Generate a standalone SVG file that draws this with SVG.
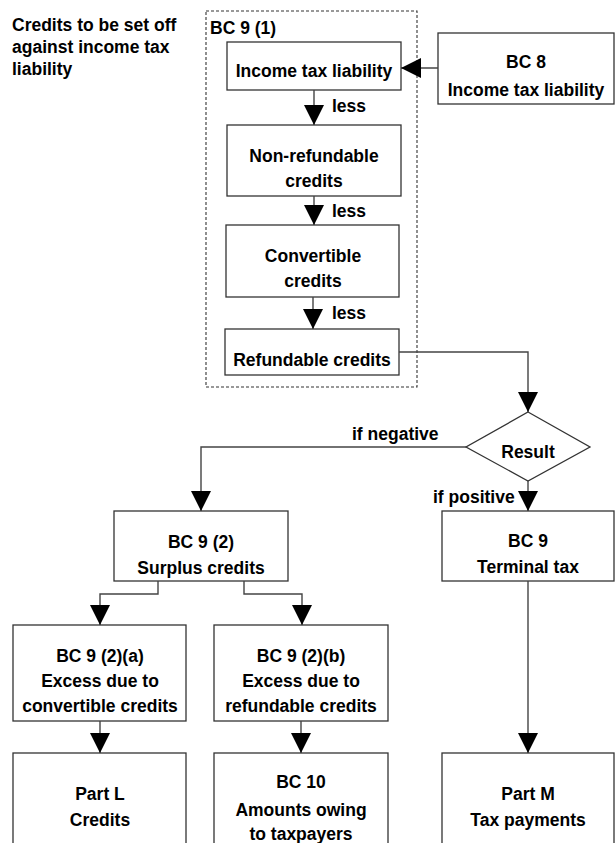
<svg xmlns="http://www.w3.org/2000/svg" width="615" height="843" viewBox="0 0 615 843">
<style>
  .box { fill: #ffffff; stroke: #333333; stroke-width: 1.3; }
  .dash { fill: none; stroke: #333333; stroke-width: 1.1; stroke-dasharray: 3 2; }
  .conn { fill: none; stroke: #444444; stroke-width: 1.4; }
  text { font-family: "Liberation Sans", Arial, sans-serif; font-size: 17.5px; font-weight: bold; fill: #000000; }
  .c { text-anchor: middle; }
</style>
<defs>
  <marker id="ah" viewBox="0 0 20 20" refX="20" refY="10" markerWidth="20" markerHeight="20" markerUnits="userSpaceOnUse" orient="auto">
    <path d="M0,0 L20,10 L0,20 Z" fill="#000000"/>
  </marker>
</defs>
<rect width="615" height="843" fill="#ffffff"/>

<g id="title">
  <text x="12" y="31">Credits to be set off</text>
  <text x="12" y="53">against income tax</text>
  <text x="12" y="75">liability</text>
</g>

<g id="bc9-1-group">
  <rect class="dash" x="206" y="11" width="211" height="376"/>
  <text x="210" y="34">BC 9 (1)</text>
</g>

<g id="income-tax-liability">
  <rect class="box" x="227" y="42" width="174" height="48"/>
  <text class="c" x="314" y="77">Income tax liability</text>
</g>

<g id="non-refundable">
  <rect class="box" x="227" y="125" width="174" height="71"/>
  <text class="c" x="314" y="162">Non-refundable</text>
  <text class="c" x="314" y="187">credits</text>
</g>

<g id="convertible">
  <rect class="box" x="226" y="225" width="173" height="72"/>
  <text class="c" x="313" y="262">Convertible</text>
  <text class="c" x="313" y="287">credits</text>
</g>

<g id="refundable">
  <rect class="box" x="225" y="329" width="174" height="46"/>
  <text class="c" x="312" y="366">Refundable credits</text>
</g>

<g id="bc8">
  <rect class="box" x="438" y="33" width="176" height="71"/>
  <text class="c" x="526" y="68">BC 8</text>
  <text class="c" x="526" y="96">Income tax liability</text>
</g>

<g id="result">
  <polygon class="box" points="528,412 590,447 528,481 466,447"/>
  <text class="c" x="528" y="458">Result</text>
</g>

<g id="surplus">
  <rect class="box" x="114" y="511" width="174" height="70"/>
  <text class="c" x="201" y="548">BC 9 (2)</text>
  <text class="c" x="201" y="574">Surplus credits</text>
</g>

<g id="terminal">
  <rect class="box" x="442" y="511" width="172" height="70"/>
  <text class="c" x="528" y="547">BC 9</text>
  <text class="c" x="528" y="573">Terminal tax</text>
</g>

<g id="excess-a">
  <rect class="box" x="13" y="625" width="173" height="96"/>
  <text class="c" x="100" y="662">BC 9 (2)(a)</text>
  <text class="c" x="100" y="687">Excess due to</text>
  <text class="c" x="100" y="712">convertible credits</text>
</g>

<g id="excess-b">
  <rect class="box" x="214" y="625" width="174" height="96"/>
  <text class="c" x="301" y="662">BC 9 (2)(b)</text>
  <text class="c" x="301" y="687">Excess due to</text>
  <text class="c" x="301" y="712">refundable credits</text>
</g>

<g id="part-l">
  <rect class="box" x="13" y="753" width="173" height="100"/>
  <text class="c" x="100" y="800">Part L</text>
  <text class="c" x="100" y="826">Credits</text>
</g>

<g id="bc10">
  <rect class="box" x="214" y="753" width="174" height="100"/>
  <text class="c" x="301" y="788">BC 10</text>
  <text class="c" x="301" y="816">Amounts owing</text>
  <text class="c" x="301" y="840">to taxpayers</text>
</g>

<g id="part-m">
  <rect class="box" x="442" y="753" width="172" height="100"/>
  <text class="c" x="528" y="800">Part M</text>
  <text class="c" x="528" y="826">Tax payments</text>
</g>

<g id="connectors">
  <path class="conn" d="M438,68 H401" marker-end="url(#ah)"/>
  <path class="conn" d="M314,90 V125" marker-end="url(#ah)"/>
  <path class="conn" d="M314,196 V225" marker-end="url(#ah)"/>
  <path class="conn" d="M313,297 V329" marker-end="url(#ah)"/>
  <path class="conn" d="M399,352 H528 V412" marker-end="url(#ah)"/>
  <path class="conn" d="M466,447 H201 V511" marker-end="url(#ah)"/>
  <path class="conn" d="M528,481 V511" marker-end="url(#ah)"/>
  <path class="conn" d="M158,581 V594 H100 V625" marker-end="url(#ah)"/>
  <path class="conn" d="M244,581 V594 H302 V625" marker-end="url(#ah)"/>
  <path class="conn" d="M100,721 V753" marker-end="url(#ah)"/>
  <path class="conn" d="M301,721 V753" marker-end="url(#ah)"/>
  <path class="conn" d="M528,581 V753" marker-end="url(#ah)"/>
  <text x="332" y="112">less</text>
  <text x="332" y="217">less</text>
  <text x="332" y="319">less</text>
  <text x="352" y="440">if negative</text>
  <text x="433" y="503">if positive</text>
</g>
</svg>
